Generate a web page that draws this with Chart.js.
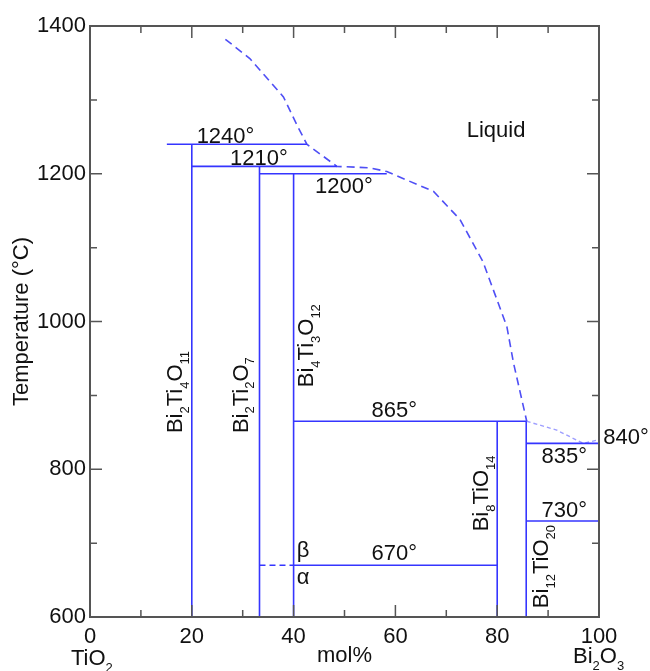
<!DOCTYPE html>
<html>
<head>
<meta charset="utf-8">
<script src="https://cdn.jsdelivr.net/npm/chart.js@4.4.1/dist/chart.umd.min.js"></script>
<style>
    body { margin: 0; background: #fff; }
    canvas { display: block; }
</style>
</head>
<body>
<canvas id="phaseChart" width="650" height="671"></canvas>
<script>
// TiO2 - Bi2O3 phase diagram (mol% Bi2O3 vs temperature)

// Tick values
const xTicks = [0, 20, 40, 60, 80, 100];
const xMinorTicks = [10, 30, 50, 70, 90];
const yTicks = [600, 800, 1000, 1200, 1400];
const yMinorTicks = [700, 900, 1100, 1300];

// Isotherms: [x from, x to, temperature]
const isotherms = [
    [15.1, 42.6, 1240],
    [20, 48.5, 1210],
    [33.3, 58.3, 1200],
    [40, 85.7, 865],
    [85.7, 100, 835],
    [85.7, 100, 730],
    [40, 80, 670]
];

// Compound lines: [mol% Bi2O3, top temperature], all start at 600
const compounds = [
    [20, 1240],
    [33.3, 1210],
    [40, 1200],
    [80, 865],
    [85.7, 865]
];

// beta/alpha transition, dashed part left of Bi4Ti3O12
const transitionDashed = [[33.3, 670], [40, 670]];

// Liquidus (dashed) and the Bi-rich end (dotted)
const liquidus = [
    [26.6, 1382], [31.4, 1356], [38.0, 1304], [40.8, 1264], [42.6, 1240],
    [48.5, 1210], [55, 1208], [58.3, 1203], [60, 1198], [67.5, 1176],
    [72.7, 1138], [77.2, 1081], [81.9, 993], [83.2, 944], [85.8, 865]
];
const liquidusBiRich = [[85.8, 865], [91.7, 853], [96.9, 835], [100, 840]];

// Text on the diagram: [text, x, y] (left edge / baseline, data units)
const tempLabels = [
    ['1240°', 20.95, 1242],
    ['1210°', 27.5, 1212],
    ['1200°', 44.2, 1174],
    ['Liquid', 74.0, 1250],
    ['865°', 55.3, 871],
    ['840°', 100.85, 834],
    ['835°', 88.7, 808],
    ['730°', 88.7, 736],
    ['670°', 55.3, 677],
    ['β', 40.6, 681],
    ['α', 40.6, 644]
];

// Rotated compound names: [formula, baseline x, start y]
const compoundLabels = [
    ['Bi_2Ti_4O_11', 18.1, 849],
    ['Bi_2Ti_2O_7', 31.0, 849],
    ['Bi_4Ti_3O_12', 43.8, 911],
    ['Bi_8TiO_14', 78.2, 716],
    ['Bi_12TiO_20', 90.0, 612]
];

const FONT = '"Liberation Sans", Arial, sans-serif';
const TEXT_COLOR = '#111';
const AXIS_COLOR = '#555';
const SOLID_BLUE = '#3535ff';
const DASH_BLUE = '#4f4ff5';
const DOT_BLUE = '#9d9dff';

function toPoints(pairs) {
    return pairs.map(p => ({ x: p[0], y: p[1] }));
}

function lineDataset(pairs, color, width, dash) {
    return {
        data: toPoints(pairs),
        showLine: true,
        borderColor: color,
        borderWidth: width,
        borderDash: dash || [],
        pointRadius: 0,
        fill: false,
        tension: 0,
        clip: false
    };
}

const datasets = [];
isotherms.forEach(l => datasets.push(lineDataset([[l[0], l[2]], [l[1], l[2]]], SOLID_BLUE, 1.6)));
compounds.forEach(c => datasets.push(lineDataset([[c[0], 600], [c[0], c[1]]], SOLID_BLUE, 1.6)));
datasets.push(lineDataset(transitionDashed, SOLID_BLUE, 1.6, [6, 4]));
datasets.push(lineDataset(liquidus, DASH_BLUE, 1.6, [8, 5]));
datasets.push(lineDataset(liquidusBiRich, DOT_BLUE, 1.4, [4, 3]));

/**
 * Draw text with "_digits" as subscripts
 */
function drawFormula(ctx, text, x, y, rotate, size) {
    const subSize = Math.round(size * 0.58);
    ctx.save();
    ctx.translate(x, y);
    if (rotate) ctx.rotate(-Math.PI / 2);
    ctx.textBaseline = 'alphabetic';
    ctx.textAlign = 'left';
    let cx = 0;
    const re = /_(\d+)|([^_]+)/g;
    let m;
    while ((m = re.exec(text)) !== null) {
        if (m[1]) {
            ctx.font = `${subSize}px ${FONT}`;
            ctx.fillText(m[1], cx, size * 0.3);
            cx += ctx.measureText(m[1]).width;
        } else {
            ctx.font = `${size}px ${FONT}`;
            ctx.fillText(m[2], cx, 0);
            cx += ctx.measureText(m[2]).width;
        }
    }
    ctx.restore();
}

const framePlugin = {
    id: 'frame',
    afterDatasetsDraw(chart) {
        const { ctx, chartArea: a, scales: { x, y } } = chart;
        ctx.save();
        ctx.strokeStyle = AXIS_COLOR;
        ctx.lineWidth = 1.5;
        ctx.beginPath();
        const xt = xTicks.map(v => [v, 12]).concat(xMinorTicks.map(v => [v, 7]));
        xt.forEach(([v, len]) => {
            const px = x.getPixelForValue(v);
            ctx.moveTo(px, a.bottom); ctx.lineTo(px, a.bottom - len);
            ctx.moveTo(px, a.top); ctx.lineTo(px, a.top + len);
        });
        const yt = yTicks.map(v => [v, 12]).concat(yMinorTicks.map(v => [v, 7]));
        yt.forEach(([v, len]) => {
            const py = y.getPixelForValue(v);
            ctx.moveTo(a.left, py); ctx.lineTo(a.left + len, py);
            ctx.moveTo(a.right, py); ctx.lineTo(a.right - len, py);
        });
        ctx.stroke();
        ctx.lineWidth = 2;
        ctx.strokeRect(a.left, a.top, a.width, a.height);

        // labels inside the diagram
        ctx.fillStyle = TEXT_COLOR;
        tempLabels.forEach(([t, vx, vy]) => {
            drawFormula(ctx, t, x.getPixelForValue(vx), y.getPixelForValue(vy), false, 22);
        });
        compoundLabels.forEach(([t, vx, vy]) => {
            drawFormula(ctx, t, x.getPixelForValue(vx), y.getPixelForValue(vy), true, 22);
        });

        // axis titles and end members
        drawFormula(ctx, 'TiO_2', a.left - 19, 665, false, 22);
        drawFormula(ctx, 'Bi_2O_3', a.right - 26, 663, false, 22);
        ctx.font = `22px ${FONT}`;
        ctx.textAlign = 'center';
        ctx.textBaseline = 'alphabetic';
        ctx.fillText('mol%', (a.left + a.right) / 2, 662);
        ctx.save();
        ctx.translate(28, (a.top + a.bottom) / 2);
        ctx.rotate(-Math.PI / 2);
        ctx.fillText('Temperature (°C)', 0, 0);
        ctx.restore();
        ctx.restore();
    }
};

new Chart(document.getElementById('phaseChart'), {
    type: 'scatter',
    data: { datasets: datasets },
    options: {
        responsive: false,
        animation: false,
        layout: { padding: { left: 0, top: 26, right: 51, bottom: 0 } },
        plugins: {
            legend: { display: false },
            tooltip: { enabled: false }
        },
        scales: {
            x: {
                type: 'linear',
                min: 0,
                max: 100,
                afterBuildTicks: s => { s.ticks = xTicks.map(v => ({ value: v })); },
                afterFit: s => { s.height = 54; },
                ticks: {
                    autoSkip: false,
                    maxRotation: 0,
                    padding: 7,
                    color: TEXT_COLOR,
                    font: { size: 22, family: FONT },
                    callback: v => String(v)
                },
                grid: { display: false, drawTicks: false },
                border: { display: false }
            },
            y: {
                type: 'linear',
                min: 600,
                max: 1400,
                afterBuildTicks: s => { s.ticks = yTicks.map(v => ({ value: v })); },
                afterFit: s => { s.width = 90; },
                ticks: {
                    autoSkip: false,
                    padding: 4,
                    color: TEXT_COLOR,
                    font: { size: 22, family: FONT },
                    callback: v => String(v)
                },
                grid: { display: false, drawTicks: false },
                border: { display: false }
            }
        }
    },
    plugins: [framePlugin]
});
</script>
</body>
</html>
